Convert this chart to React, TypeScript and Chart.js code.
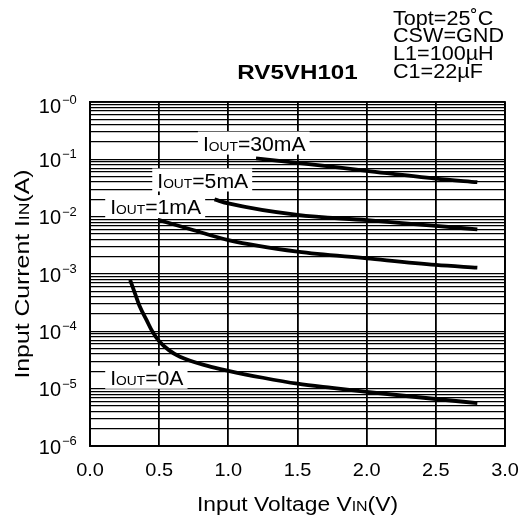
import React, { useEffect, useRef } from "react";
import { Chart, registerables } from "chart.js";

Chart.register(...registerables);

// ---- data ----
const v0A = [0.29, 0.325, 0.36, 0.41, 0.45, 0.5, 0.57, 0.65, 0.85, 1.0, 1.25, 1.5, 1.75, 2.0, 2.25, 2.5, 2.8];
const i0A = [7.9e-4, 4.6e-4, 2.7e-4, 1.55e-4, 1.0e-4, 6.7e-5, 4.7e-5, 3.6e-5, 2.5e-5, 2.05e-5, 1.55e-5, 1.22e-5, 1.03e-5, 8.8e-6, 7.6e-6, 6.6e-6, 5.6e-6];

const v1mA = [0.5, 0.75, 1.0, 1.5, 2.0, 2.5, 2.8];
const i1mA = [8.7e-3, 5.8e-3, 3.9e-3, 2.45e-3, 1.87e-3, 1.44e-3, 1.29e-3];

const v5mA = [0.9, 1.0, 1.5, 2.0, 2.5, 2.8];
const i5mA = [0.02, 0.017, 0.0107, 0.0087, 0.0069, 0.006];

const v30mA = [1.2, 1.5, 2.0, 2.5, 2.8];
const i30mA = [0.104, 0.087, 0.063, 0.046, 0.04];

const labelTexts = ["30mA", "5mA", "1mA", "0A"];
const labelV = [0.78, 0.45, 0.11, 0.11];
const labelI = [0.192, 0.0436, 0.015, 1.58e-5];

const xTickValues = [0, 0.5, 1.0, 1.5, 2.0, 2.5, 3.0];
const xTickLabels = ["0.0", "0.5", "1.0", "1.5", "2.0", "2.5", "3.0"];
const yExponents = [-6, -5, -4, -3, -2, -1, 0];
const yMantissas = [1, 2, 3, 4, 5, 6, 7, 8, 9];

const titleText = "RV5VH101";
const conditionLines = ["Topt=25˚C", "CSW=GND", "L1=100µH", "C1=22µF"];

const FONT = '"Liberation Sans", Arial, Helvetica, sans-serif';

const gridValues: number[] = [];
yExponents.forEach((e) => {
  if (e === 0) {
    gridValues.push(1);
  } else {
    yMantissas.forEach((m) => gridValues.push(Number((m * Math.pow(10, e)).toPrecision(3))));
  }
});

type Run = [string, string];

function runsWidth(ctx: CanvasRenderingContext2D, runs: Run[]) {
  let w = 0;
  runs.forEach(([t, f]) => {
    ctx.font = f;
    w += ctx.measureText(t).width;
  });
  return w;
}

function drawRuns(
  ctx: CanvasRenderingContext2D,
  runs: Run[],
  x: number,
  y: number,
  align: "left" | "center" | "right",
  sx: number,
  rotate = 0
) {
  ctx.save();
  ctx.translate(x, y);
  if (rotate) ctx.rotate(rotate);
  ctx.scale(sx, 1);
  ctx.textBaseline = "alphabetic";
  ctx.textAlign = "left";
  ctx.fillStyle = "#000";
  const total = runsWidth(ctx, runs);
  let start = align === "left" ? 0 : align === "center" ? -total / 2 : -total;
  runs.forEach(([t, f]) => {
    ctx.font = f;
    ctx.fillText(t, start, 0);
    start += ctx.measureText(t).width;
  });
  ctx.restore();
}

const decorPlugin = {
  id: "decor",
  afterDatasetsDraw(chart: any) {
    const ctx: CanvasRenderingContext2D = chart.ctx;
    const xs = chart.scales.x;
    const ys = chart.scales.y;
    const area = chart.chartArea;

    // border
    ctx.save();
    ctx.strokeStyle = "#000";
    ctx.lineWidth = 1.8;
    ctx.strokeRect(area.left, area.top, area.right - area.left, area.bottom - area.top);
    ctx.restore();

    // curve labels
    labelTexts.forEach((txt, i) => {
      const runs: Run[] = [
        ["I", `20px ${FONT}`],
        ["OUT", `13px ${FONT}`],
        ["=" + txt, `20px ${FONT}`],
      ];
      const sx = 1.06;
      const w = runsWidth(ctx, runs) * sx;
      const x = xs.getPixelForValue(labelV[i]);
      const y = ys.getPixelForValue(labelI[i]);
      ctx.save();
      ctx.fillStyle = "#fff";
      ctx.fillRect(x, y - 11.5, w + 9, 23);
      ctx.restore();
      drawRuns(ctx, runs, x + 5, y + 7.5, "left", sx);
    });
  },
  afterDraw(chart: any) {
    const ctx: CanvasRenderingContext2D = chart.ctx;
    const xs = chart.scales.x;
    const ys = chart.scales.y;
    const area = chart.chartArea;

    // y tick labels
    yExponents.forEach((e) => {
      let y = ys.getPixelForValue(Math.pow(10, e));
      if (e === 0) y += 3;
      drawRuns(ctx, [["10", `20px ${FONT}`]], 61, y + 7.5, "right", 1.0);
      drawRuns(ctx, [["\u2212" + Math.abs(e), `12px ${FONT}`]], 62, y - 1, "left", 1.08);
    });

    // x tick labels
    xTickValues.forEach((v, i) => {
      const x = xs.getPixelForValue(v);
      drawRuns(ctx, [[xTickLabels[i], `19px ${FONT}`]], x, 476, "center", 1.05);
    });

    // x axis title
    drawRuns(
      ctx,
      [
        ["Input Voltage V", `20px ${FONT}`],
        ["IN", `14px ${FONT}`],
        ["(V)", `20px ${FONT}`],
      ],
      (area.left + area.right) / 2,
      511,
      "center",
      1.14
    );

    // y axis title
    drawRuns(
      ctx,
      [
        ["Input Current I", `21px ${FONT}`],
        ["IN", `15px ${FONT}`],
        ["(A)", `21px ${FONT}`],
      ],
      29,
      (area.top + area.bottom) / 2,
      "center",
      1.18,
      -Math.PI / 2
    );

    // title
    drawRuns(ctx, [[titleText, `bold 21px ${FONT}`]], (area.left + area.right) / 2, 79, "center", 1.15);

    // conditions
    const baselines = [25, 42, 59.5, 77.5];
    conditionLines.forEach((t, i) => {
      drawRuns(ctx, [[t, `20px ${FONT}`]], 393, baselines[i], "left", 1.08);
    });
  },
};

function makeSeries(v: number[], iv: number[]) {
  return v.map((x, k) => ({ x, y: iv[k] }));
}

export default function App() {
  const ref = useRef<HTMLCanvasElement | null>(null);

  useEffect(() => {
    document.body.style.margin = "0";
    const canvas = ref.current;
    if (!canvas) return;
    const lineStyle = {
      borderColor: "#000",
      borderWidth: 3.8,
      pointRadius: 0,
      fill: false,
      cubicInterpolationMode: "monotone" as const,
      borderCapStyle: "butt" as const,
    };
    const chart = new Chart(canvas, {
      type: "line",
      data: {
        datasets: [
          { label: "IOUT=0A", data: makeSeries(v0A, i0A), ...lineStyle },
          { label: "IOUT=1mA", data: makeSeries(v1mA, i1mA), ...lineStyle },
          { label: "IOUT=5mA", data: makeSeries(v5mA, i5mA), ...lineStyle },
          { label: "IOUT=30mA", data: makeSeries(v30mA, i30mA), ...lineStyle },
        ],
      },
      options: {
        animation: false,
        responsive: false,
        devicePixelRatio: 1,
        layout: { padding: { left: 90, right: 25, top: 102, bottom: 71 } },
        plugins: { legend: { display: false }, tooltip: { enabled: false }, title: { display: false } },
        scales: {
          x: {
            type: "linear",
            min: 0,
            max: 3,
            afterBuildTicks: (axis: any) => {
              axis.ticks = xTickValues.map((value) => ({ value }));
            },
            ticks: { display: false, autoSkip: false },
            grid: { color: "#000", lineWidth: 1.8, drawTicks: false },
            border: { display: true, color: "#000", width: 1.8 },
          },
          y: {
            type: "logarithmic",
            min: 1e-6,
            max: 1,
            afterBuildTicks: (axis: any) => {
              axis.ticks = gridValues.map((value) => ({ value }));
            },
            ticks: { display: false, autoSkip: false },
            grid: { color: "#000", lineWidth: 1.3, drawTicks: false },
            border: { display: true, color: "#000", width: 1.8 },
          },
        },
      },
      plugins: [decorPlugin],
    });
    return () => chart.destroy();
  }, []);

  return (
    <div style={{ width: 530, height: 517, background: "#fff" }}>
      <canvas ref={ref} width={530} height={517} style={{ display: "block" }} />
    </div>
  );
}
